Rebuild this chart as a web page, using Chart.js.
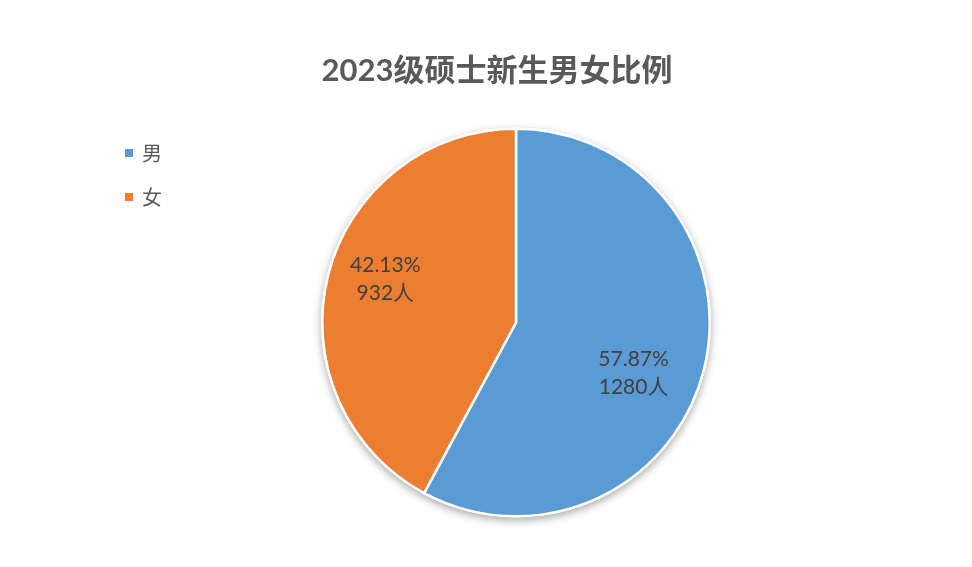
<!DOCTYPE html>
<html>
<head>
<meta charset="utf-8">
<script src="https://cdn.jsdelivr.net/npm/chart.js@4.4.0/dist/chart.umd.min.js"></script>
<style>
html,body{margin:0;padding:0;background:#fff;}
#wrap{width:972px;height:567px;position:relative;}
</style>
</head>
<body>
<div id="wrap"><canvas id="c" width="972" height="567"></canvas></div>
<script>
const titleText = '2023级硕士新生男女比例';
const categories = ['男', '女'];
const counts = [1280, 932];
const percents = ['57.87%', '42.13%'];
const colors = ['#5B9BD5', '#ED7D31'];
const labelRadius = [0.66, 0.71];
const labelAngleShift = [9, 4]; // degrees, shift from slice mid-angle

const textColor = '#404040';
const titleColor = '#595959';
const numFont = 'Lato, "Noto Sans CJK SC", sans-serif';
const cjkFont = '"Noto Sans CJK SC", Lato, sans-serif';

const shadowPlugin = {
  id: 'pieShadow',
  beforeDatasetsDraw(chart) {
    const arc = chart.getDatasetMeta(0).data[0];
    if (!arc) return;
    const ctx = chart.ctx;
    ctx.save();
    ctx.shadowColor = 'rgba(0,0,0,0.35)';
    ctx.shadowBlur = 9;
    ctx.shadowOffsetX = 0;
    ctx.shadowOffsetY = 3;
    ctx.beginPath();
    ctx.arc(arc.x, arc.y, arc.outerRadius + 1, 0, Math.PI * 2);
    ctx.fillStyle = '#ffffff';
    ctx.fill();
    ctx.restore();
  }
};

const decorPlugin = {
  id: 'decor',
  afterDraw(chart) {
    const ctx = chart.ctx;
    ctx.save();
    // title
    ctx.fillStyle = titleColor;
    ctx.font = 'bold 31px ' + numFont;
    ctx.textAlign = 'center';
    ctx.textBaseline = 'middle';
    ctx.fillText(titleText, 497, 71);
    // legend
    categories.forEach((cat, i) => {
      const y = 153 + i * 44;
      ctx.fillStyle = colors[i];
      ctx.fillRect(125, y - 4, 8, 8);
      ctx.fillStyle = '#595959';
      ctx.font = '20px ' + cjkFont;
      ctx.textAlign = 'left';
      ctx.textBaseline = 'middle';
      ctx.fillText(cat, 142, y);
    });
    // data labels
    const meta = chart.getDatasetMeta(0);
    meta.data.forEach((arc, i) => {
      const mid = (arc.startAngle + arc.endAngle) / 2 + labelAngleShift[i] * Math.PI / 180;
      const r = arc.outerRadius * labelRadius[i];
      const x = arc.x + Math.cos(mid) * r;
      const y = arc.y + Math.sin(mid) * r;
      ctx.fillStyle = textColor;
      ctx.font = '21px ' + numFont;
      ctx.textAlign = 'center';
      ctx.textBaseline = 'middle';
      ctx.fillText(percents[i], x, y - 14);
      ctx.fillText(counts[i] + '人', x, y + 14);
    });
    ctx.restore();
  }
};

new Chart(document.getElementById('c'), {
  type: 'pie',
  data: {
    labels: categories,
    datasets: [{
      data: counts,
      backgroundColor: colors,
      borderColor: '#ffffff',
      borderWidth: 2.5,
      hoverOffset: 0
    }]
  },
  options: {
    responsive: false,
    animation: false,
    devicePixelRatio: 1,
    layout: { padding: { left: 321, right: 261, top: 127, bottom: 49 } },
    plugins: {
      legend: { display: false },
      title: { display: false },
      tooltip: { enabled: false }
    }
  },
  plugins: [shadowPlugin, decorPlugin]
});
</script>
</body>
</html>
